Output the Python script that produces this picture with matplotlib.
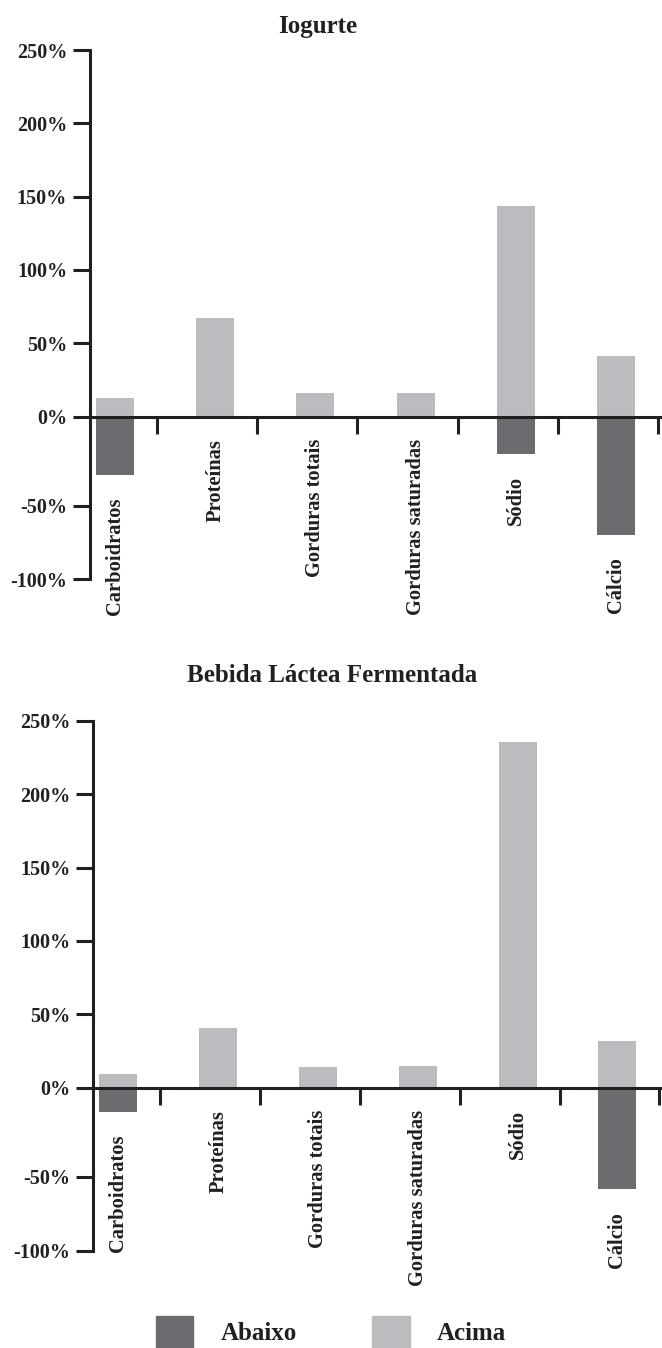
"""
Two bar panels (Iogurte / Bebida Lactea Fermentada): percentage of products
below (Abaixo) and above (Acima) the reference, per nutrient.
"""

import matplotlib
matplotlib.use("Agg")
import matplotlib.pyplot as plt
from matplotlib.patches import Patch
import numpy as np

CATEGORIES = ["Carboidratos", "Proteínas", "Gorduras totais",
              "Gorduras saturadas", "Sódio", "Cálcio"]

# Iogurte
IOG_ACIMA = [12.5, 67, 16, 16, 143.5, 41.5]
IOG_ABAIXO = [-33, 0, 0, 0, -21, -70]

# Bebida Lactea Fermentada
BEB_ACIMA = [9.5, 40.5, 14.5, 15, 235.5, 32]
BEB_ABAIXO = [-13.5, 0, 0, 0, 0, -58.5]

YTICKS = [-100, -50, 0, 50, 100, 150, 200, 250]
YTICK_LABELS = [f"{v}%" for v in YTICKS]

COLOR_ABAIXO = "#6b6c70"
COLOR_ACIMA = "#bbbcbf"
INK = "#231f20"

plt.rcParams.update({
    "font.family": ["Liberation Serif", "DejaVu Serif"],
    "font.weight": "bold",
    "text.color": INK,
    "axes.edgecolor": INK,
    "xtick.color": INK,
    "ytick.color": INK,
})

# the original axis is drawn with the 0..-50 stretch a bit longer than the rest
_Y_DATA = [-1000, -50, 0, 1000]
_Y_DISP = [-89 - 950 * 1.472, -89, 0, 1466.7]


def y_forward(y):
    return np.interp(y, _Y_DATA, _Y_DISP)


def y_inverse(y):
    return np.interp(y, _Y_DISP, _Y_DATA)


def plot_panel(ax, acima, abaixo):
    x = np.arange(len(CATEGORIES)) + 0.08
    ax.set_yscale("function", functions=(y_forward, y_inverse))
    ax.bar(x, acima, width=0.38, color=COLOR_ACIMA, zorder=1)
    ax.bar(x, abaixo, width=0.38, color=COLOR_ABAIXO, zorder=1)

    ax.set_ylim(-100, 250)
    ax.set_xlim(-0.17, 5.52)
    ax.set_yticks(YTICKS)
    ax.set_yticklabels(YTICK_LABELS, fontsize=14.5, fontweight="bold")
    ax.set_xticks(np.arange(len(CATEGORIES)) + 0.5)
    ax.set_xticklabels([])

    for side in ("top", "right"):
        ax.spines[side].set_visible(False)
    ax.spines["bottom"].set_position(("data", 0))
    ax.spines["left"].set_bounds(-100, 250)
    for side in ("bottom", "left"):
        ax.spines[side].set_linewidth(2.2)
        ax.spines[side].set_zorder(3)
    ax.tick_params(axis="both", direction="out", length=12, width=2.2,
                   pad=4.5)

    for xi, name, low in zip(x, CATEGORIES, abaixo):
        ax.annotate(name, xy=(xi, min(0, low)), xytext=(0, -16),
                    textcoords="offset points", rotation=90,
                    ha="center", va="top", fontsize=14.8, fontweight="bold",
                    annotation_clip=False)


def main():
    fig = plt.figure(figsize=(6.62, 13.48), dpi=100)
    ax1 = fig.add_axes([0.136, 0.5703, 0.861, 0.3926])
    ax2 = fig.add_axes([0.141, 0.0722, 0.858, 0.3932])

    plot_panel(ax1, IOG_ACIMA, IOG_ABAIXO)
    plot_panel(ax2, BEB_ACIMA, BEB_ABAIXO)

    fig.text(318 / 662, 1 - 27 / 1348, "Iogurte", ha="center", va="center",
             fontsize=18, fontweight="bold")
    fig.text(332 / 662, 1 - 676 / 1348, "Bebida Láctea Fermentada",
             ha="center", va="center", fontsize=18, fontweight="bold")

    handles = [Patch(color=COLOR_ABAIXO, label="Abaixo"),
               Patch(color=COLOR_ACIMA, label="Acima")]
    fig.legend(handles=handles, loc="center", bbox_to_anchor=(0.5, 1 - 1332 / 1348),
               ncol=2, frameon=False, handlelength=1.5,
               handleheight=1.6, handletextpad=1.1, columnspacing=3.0,
               prop={"weight": "bold", "size": 18})

    fig.savefig("out.png", dpi=100)


if __name__ == "__main__":
    main()
